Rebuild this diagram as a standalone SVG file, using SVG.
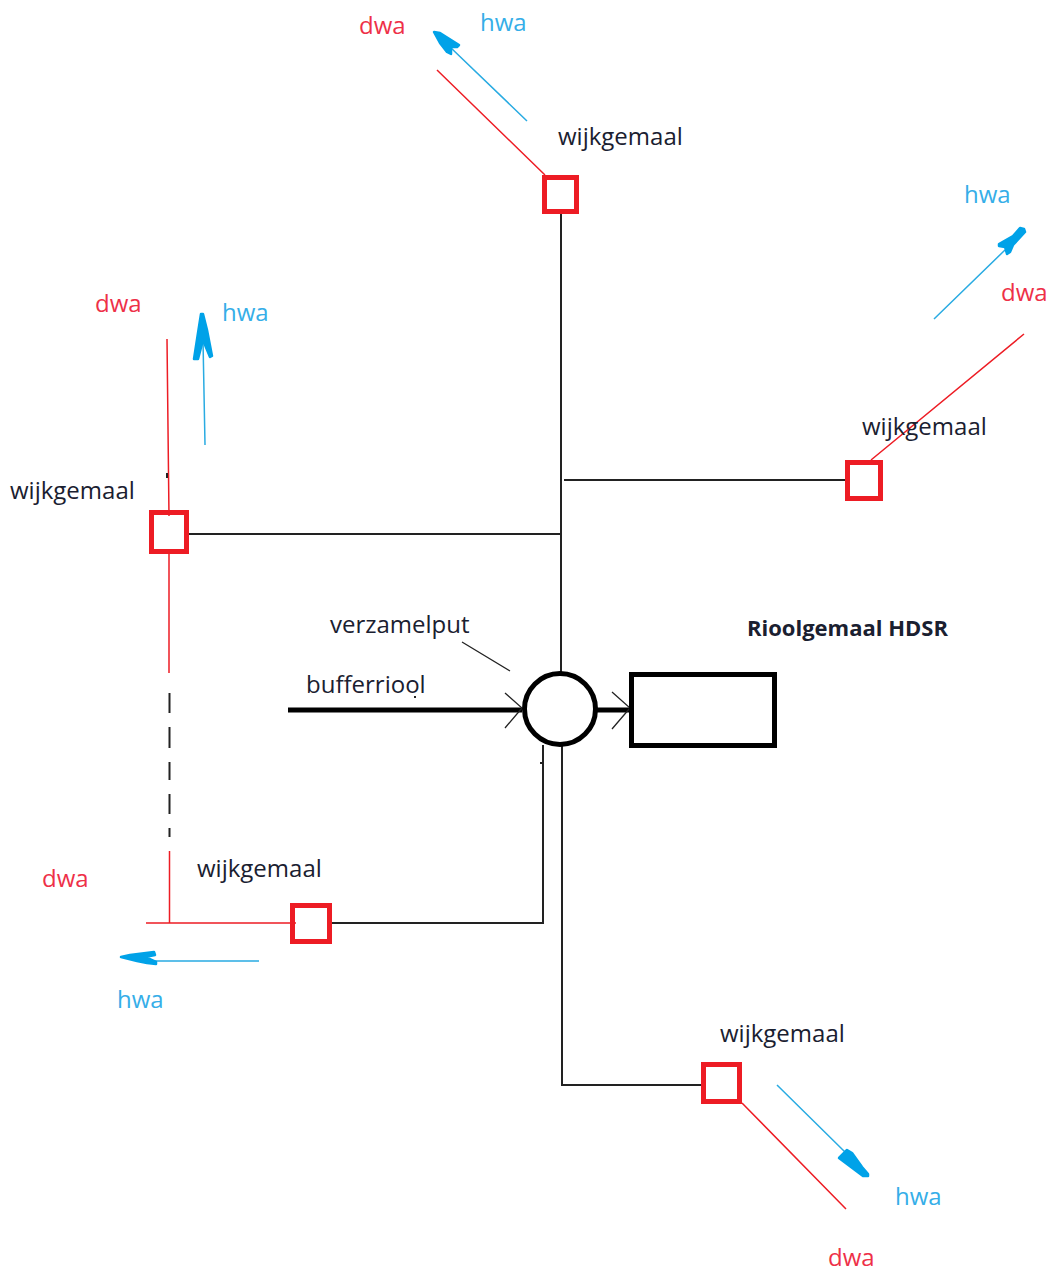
<svg xmlns="http://www.w3.org/2000/svg" width="1054" height="1273" viewBox="0 0 1054 1273">
<style>
text{font-family:"Open Sans","Noto Sans","Liberation Sans",sans-serif;font-size:24px}
.l{fill:#1a2030}.d{fill:#ee3048}.h{fill:#35aee8}.b{font-weight:700;font-size:22px}
.box{fill:none;stroke:#ed1c24;stroke-width:5}
.k{fill:none;stroke:#222;stroke-width:2}
.t{fill:none;stroke:#000;stroke-width:5}
.r{fill:none;stroke:#ed1c24;stroke-width:1.5}
.c{fill:none;stroke:#29abe2;stroke-width:1.5}
.a{fill:#00a2e8;stroke:#00a2e8;stroke-width:2.500;stroke-linejoin:round}
.s{fill:#222}
</style>
<rect width="1054" height="1273" fill="#fff"/>
<g id="connectors">
<path class="k" d="M561 212V673M189 534H561M564 480H845M332 923H543V745M562 745V1085H701"/>
<path class="t" d="M288 710H522M597 710H630"/>
<path class="k" style="stroke-width:1.3" d="M505 693L522 708L505 728M612 692L630 708L612 729M462 642L510 671"/>
<path class="r" d="M437 70L545 175M1024 334L871 460M167 339L169 516M169 554V673M146 923H296M169.500 851V923M742 1103L846 1209"/>
<path class="k" d="M169.500 693V713M169.500 727V748M169.500 762V780M169.500 794V814M169.500 828V837"/>
<path class="c" d="M527 121L450 47M934 319L1005 250M205 445L203 340M259 961H150M777 1085L845 1152"/>
<polygon class="a" points="434,32 440,33 459,45 457,47 451,47 451,54 447,52 440,43"/>
<polygon class="a" points="1024,229 1020,228 1013,236 999,244 999,246 1005,247 1007,254 1010,252 1013,245 1025,232"/>
<polygon class="a" points="201,314 203,314 207,330 212,356 210,357 203,340 198,359 194,359 198,333"/>
<polygon class="a" points="121,957 130,955 154,952 155,955 145,957 156,962 156,964 147,963 137,961"/>
<polygon class="a" points="868,1174 868,1176 863,1176 839,1158 847,1150 852,1153 862,1167"/>
<rect class="s" x="166" y="473" width="2" height="5"/>
<rect class="s" x="414" y="696" width="2" height="2"/>
<rect class="s" x="540" y="762" width="2" height="2"/>
</g>
<g id="wijkgemaal-top"><rect class="box" x="544.500" y="177.500" width="32" height="34"/><text class="l" x="558" y="145">wijkgemaal</text></g>
<g id="wijkgemaal-right"><rect class="box" x="847.500" y="462.500" width="33" height="36"/><text class="l" x="862" y="435">wijkgemaal</text></g>
<g id="wijkgemaal-left"><rect class="box" x="151.500" y="512.500" width="35" height="39"/><text class="l" x="10" y="499">wijkgemaal</text></g>
<g id="wijkgemaal-bottom-left"><rect class="box" x="292.500" y="905.500" width="37" height="36"/><text class="l" x="197" y="877">wijkgemaal</text></g>
<g id="wijkgemaal-bottom-right"><rect class="box" x="703.500" y="1064.500" width="36" height="37"/><text class="l" x="720" y="1042">wijkgemaal</text></g>
<g id="verzamelput"><circle cx="560" cy="709" r="35.500" fill="#fff" stroke="#000" stroke-width="5"/><text class="l" x="330" y="633">verzamelput</text></g>
<g id="rioolgemaal"><rect x="631.500" y="674.500" width="143" height="71" fill="#fff" stroke="#000" stroke-width="5"/><text class="l b" x="747" y="636">Rioolgemaal HDSR</text></g>
<g id="labels">
<text class="l" x="306" y="693">bufferriool</text>
<text class="d" x="359" y="34">dwa</text><text class="h" x="480" y="31">hwa</text>
<text class="h" x="964" y="203">hwa</text><text class="d" x="1001" y="301">dwa</text>
<text class="d" x="95" y="312">dwa</text><text class="h" x="222" y="321">hwa</text>
<text class="d" x="42" y="887">dwa</text><text class="h" x="117" y="1008">hwa</text>
<text class="h" x="895" y="1205">hwa</text><text class="d" x="828" y="1266">dwa</text>
</g>
</svg>
